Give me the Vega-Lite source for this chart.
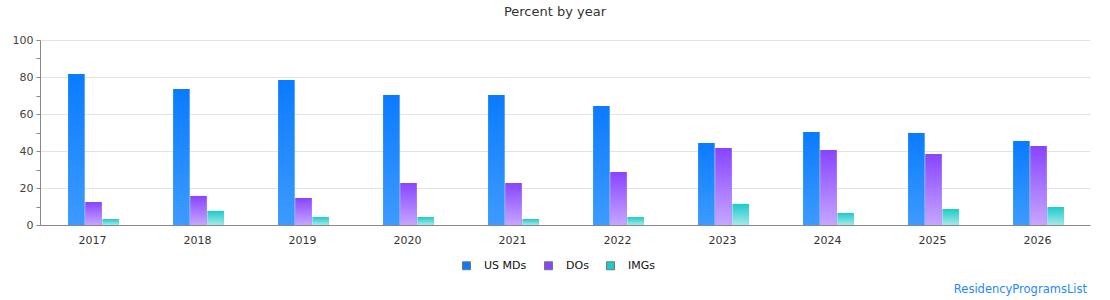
{
  "$schema": "https://vega.github.io/schema/vega-lite/v6.json",
  "autosize": "none",
  "width": 1050,
  "height": 185,
  "padding": {"left": 40, "top": 40, "right": 20, "bottom": 75},
  "background": "white",
  "config": {
    "font": "DejaVu Sans",
    "view": {"stroke": null},
    "axis": {"labelFont": "DejaVu Sans", "labelFontSize": 11, "labelColor": "#444", "domainColor": "#888", "tickColor": "#888", "title": null}
  },
  "title": {
    "text": "Percent by year",
    "fontSize": 13,
    "fontWeight": "normal",
    "color": "#333",
    "offset": 15,
    "dx": -10
  },
  "data": {
    "values": [
      {"year": "2017", "group": "US MDs", "pct": 81.6}, {"year": "2017", "group": "DOs", "pct": 12.4}, {"year": "2017", "group": "IMGs", "pct": 3.2},
      {"year": "2018", "group": "US MDs", "pct": 73.5}, {"year": "2018", "group": "DOs", "pct": 15.7}, {"year": "2018", "group": "IMGs", "pct": 7.6},
      {"year": "2019", "group": "US MDs", "pct": 78.4}, {"year": "2019", "group": "DOs", "pct": 14.6}, {"year": "2019", "group": "IMGs", "pct": 4.3},
      {"year": "2020", "group": "US MDs", "pct": 70.3}, {"year": "2020", "group": "DOs", "pct": 22.7}, {"year": "2020", "group": "IMGs", "pct": 4.3},
      {"year": "2021", "group": "US MDs", "pct": 70.3}, {"year": "2021", "group": "DOs", "pct": 22.7}, {"year": "2021", "group": "IMGs", "pct": 3.2},
      {"year": "2022", "group": "US MDs", "pct": 64.3}, {"year": "2022", "group": "DOs", "pct": 28.6}, {"year": "2022", "group": "IMGs", "pct": 4.3},
      {"year": "2023", "group": "US MDs", "pct": 44.3}, {"year": "2023", "group": "DOs", "pct": 41.6}, {"year": "2023", "group": "IMGs", "pct": 11.4},
      {"year": "2024", "group": "US MDs", "pct": 50.3}, {"year": "2024", "group": "DOs", "pct": 40.5}, {"year": "2024", "group": "IMGs", "pct": 6.5},
      {"year": "2025", "group": "US MDs", "pct": 49.7}, {"year": "2025", "group": "DOs", "pct": 38.4}, {"year": "2025", "group": "IMGs", "pct": 8.6},
      {"year": "2026", "group": "US MDs", "pct": 45.4}, {"year": "2026", "group": "DOs", "pct": 42.7}, {"year": "2026", "group": "IMGs", "pct": 9.7}
    ]
  },
  "encoding": {
    "x": {
      "field": "year", "type": "nominal",
      "scale": {"paddingInner": 0.5, "paddingOuter": 0.25},
      "axis": {"labelAngle": 0, "tickSize": 0, "labelPadding": 9, "labelColor": "#333"}
    },
    "xOffset": {
      "field": "group", "type": "nominal",
      "scale": {"domain": ["US MDs", "DOs", "IMGs"], "paddingInner": 0.06, "paddingOuter": 0.06, "align": 1}
    },
    "y": {
      "field": "pct", "type": "quantitative",
      "scale": {"domain": [0, 100], "nice": false},
      "axis": {
        "values": [0, 10, 20, 30, 40, 50, 60, 70, 80, 90, 100],
        "labelExpr": "datum.value % 20 === 0 ? datum.label : ''",
        "tickSize": 4,
        "labelPadding": 3,
        "gridColor": "#e3e3e3",
        "gridOpacity": {"condition": {"test": "datum.value % 20 === 0", "value": 1}, "value": 0}
      }
    }
  },
  "layer": [
    {
      "mark": {"type": "bar"},
      "encoding": {
        "color": {
          "field": "group", "type": "nominal",
          "scale": {"domain": ["US MDs", "DOs", "IMGs"], "range": ["#0A7BFF", "#8844FF", "#1CCBCB"]},
          "legend": {
            "title": null,
            "orient": "none",
            "legendX": 421,
            "legendY": 220,
            "direction": "horizontal",
            "symbolType": "square",
            "symbolSize": 64,
            "symbolStrokeColor": "#777",
            "symbolStrokeWidth": 1,
            "labelFontSize": 11,
            "labelColor": "#111",
            "labelFont": "DejaVu Sans",
            "columnPadding": 15,
            "labelOffset": 12
          }
        }
      }
    },
    {
      "transform": [{"filter": "datum.group === 'US MDs'"}],
      "mark": {
        "type": "bar",
        "color": {"gradient": "linear", "x1": 0, "y1": 0, "x2": 0, "y2": 1,
          "stops": [{"offset": 0, "color": "#0A7BFF"}, {"offset": 1, "color": "#3D9BFF"}]}
      }
    },
    {
      "transform": [{"filter": "datum.group === 'DOs'"}],
      "mark": {
        "type": "bar",
        "color": {"gradient": "linear", "x1": 0, "y1": 0, "x2": 0, "y2": 1,
          "stops": [{"offset": 0, "color": "#8844FF"}, {"offset": 1, "color": "#C6A6FF"}]}
      }
    },
    {
      "transform": [{"filter": "datum.group === 'IMGs'"}],
      "mark": {
        "type": "bar",
        "color": {"gradient": "linear", "x1": 0, "y1": 0, "x2": 0, "y2": 1,
          "stops": [{"offset": 0, "color": "#1CCBCB"}, {"offset": 1, "color": "#A6E8E8"}]}
      }
    },
    {
      "data": {"values": [{"credit": "ResidencyProgramsList"}]},
      "mark": {"type": "text", "align": "right", "baseline": "middle", "fontSize": 11.5, "font": "DejaVu Sans", "color": "#1E88FF"},
      "encoding": {
        "x": {"value": {"expr": "width - 3"}},
        "xOffset": null,
        "y": {"value": {"expr": "height + 65"}},
        "text": {"field": "credit"}
      }
    }
  ]
}
